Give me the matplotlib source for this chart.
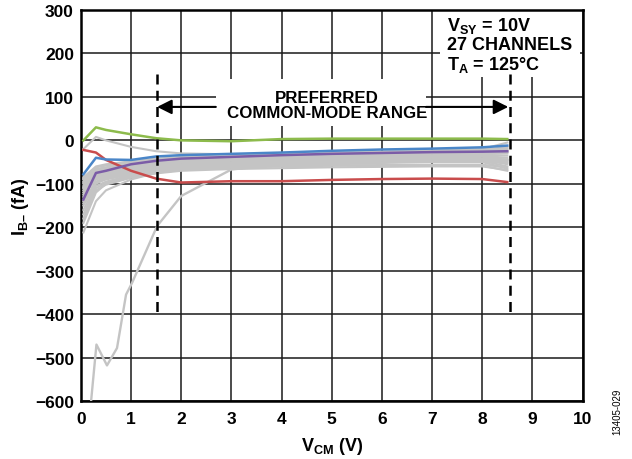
import matplotlib

matplotlib.use("Agg")
import matplotlib.pyplot as plt
from matplotlib.patches import Rectangle

plt.rcParams["font.family"] = ["Liberation Sans", "DejaVu Sans"]
plt.rcParams["font.weight"] = "bold"
plt.rcParams["mathtext.fontset"] = "custom"
plt.rcParams["mathtext.rm"] = "Liberation Sans:bold"
plt.rcParams["mathtext.bf"] = "Liberation Sans:bold"
plt.rcParams["mathtext.it"] = "Liberation Sans:bold"

# common-mode voltage sweep (V)
vcm = [0.05, 0.3, 0.5, 1.0, 1.5, 2.0, 3.0, 4.0, 5.0, 6.0, 7.0, 8.0, 8.5]

# highlighted channels, IB- in fA
green = [0, 30, 24, 14, 5, 0, -2, 3, 4, 4, 4, 4, 3]
blue = [-78, -40, -44, -45, -37, -34, -31, -28, -24, -21, -19, -16, -12]
purple = [-136, -75, -70, -55, -47, -42, -38, -34, -31, -29, -27, -26, -25]
red = [-22, -28, -45, -70, -88, -97, -94, -94, -91, -89, -88, -89, -96]

# remaining channels
gray = [
    [-20, 8, 0, -15, -25, -30, -32, -30, -28, -26, -24, -20, -5],
    [-212, -140, -115, -90, -75, -68, -62, -58, -55, -52, -50, -50, -65],
    [-190, -120, -100, -85, -72, -65, -60, -56, -52, -50, -48, -47, -60],
    [-160, -105, -95, -80, -70, -63, -58, -54, -50, -47, -45, -44, -55],
    [-150, -100, -88, -75, -66, -60, -55, -52, -48, -45, -43, -42, -50],
    [-140, -95, -85, -72, -63, -57, -52, -48, -45, -42, -40, -38, -45],
    [-130, -88, -80, -68, -60, -55, -50, -46, -43, -40, -38, -36, -40],
    [-120, -82, -75, -64, -57, -52, -47, -44, -41, -38, -36, -34, -35],
    [-115, -78, -72, -62, -55, -50, -46, -42, -39, -36, -34, -32, -30],
    [-110, -75, -70, -60, -53, -48, -44, -40, -37, -34, -31, -29, -27],
    [-105, -72, -68, -58, -51, -46, -42, -38, -35, -32, -30, -27, -25],
    [-100, -70, -66, -56, -50, -45, -40, -36, -33, -30, -28, -25, -22],
    [-95, -68, -64, -55, -48, -43, -38, -34, -31, -28, -26, -24, -20],
    [-90, -66, -62, -53, -47, -42, -37, -33, -30, -27, -24, -22, -18],
    [-170, -110, -98, -82, -73, -67, -62, -60, -58, -57, -57, -58, -70],
    [-145, -98, -90, -78, -70, -65, -62, -60, -58, -57, -56, -56, -62],
    [-125, -90, -84, -74, -67, -62, -58, -55, -52, -50, -49, -48, -52],
    [-108, -85, -80, -70, -64, -58, -53, -50, -47, -45, -44, -44, -48],
    [-98, -80, -76, -67, -60, -55, -51, -48, -46, -44, -43, -42, -44],
    [-88, -62, -58, -50, -44, -40, -36, -33, -30, -28, -26, -24, -28],
    [-85, -60, -55, -48, -42, -38, -34, -31, -28, -26, -24, -22, -15],
    [-180, -115, -102, -86, -76, -70, -66, -64, -62, -61, -60, -60, -68],
]
# channel that starts far below the rest
outlier_v = [0.2, 0.31, 0.52, 0.72, 0.9, 1.02, 1.52, 2.0, 3.0, 4.0, 5.0, 6.0, 7.0, 8.0, 8.5]
outlier_i = [-604, -470, -518, -478, -355, -328, -197, -128, -67, -55, -50, -47, -45, -43, -45]

range_lo, range_hi = 1.52, 8.55

fig = plt.figure(figsize=(6.32, 4.60), dpi=100)
ax = fig.add_axes([0.128, 0.126, 0.7937, 0.850])

for g in gray:
    ax.plot(vcm, g, color="#c4c4c4", lw=1.5, zorder=3)
ax.plot(outlier_v, outlier_i, color="#c4c4c4", lw=1.7, zorder=3)
ax.plot(vcm, red, color="#c94c4c", lw=1.8, zorder=4)
ax.plot(vcm, purple, color="#7b5ca7", lw=1.8, zorder=4)
ax.plot(vcm, blue, color="#4a86c8", lw=1.8, zorder=4)
ax.plot(vcm, green, color="#8dbb4c", lw=1.8, zorder=4)

# preferred common-mode range markers
for v in (range_lo, range_hi):
    ax.plot([v, v], [152, -405], color="black", lw=1.8, ls=(0, (4, 2.5)), zorder=6)

# white backing behind the annotations
ax.add_patch(Rectangle((2.69, 32), 4.19, 109, facecolor="white", edgecolor="none", zorder=2))
ax.add_patch(Rectangle((7.16, 147), 2.79, 153, facecolor="white", edgecolor="none", zorder=2))

ax.text(4.9, 81, "PREFERRED\nCOMMON-MODE RANGE", ha="center", va="center",
        fontsize=12.2, fontweight="bold", linespacing=1.0, zorder=7)
arrow = dict(arrowstyle="-|>", color="black", lw=1.5, mutation_scale=22,
             shrinkA=0, shrinkB=0)
ax.annotate("", xy=(range_lo, 77), xytext=(2.69, 77), arrowprops=arrow, zorder=7)
ax.annotate("", xy=(range_hi - 0.03, 77), xytext=(6.88, 77), arrowprops=arrow, zorder=7)

ax.text(7.3, 288, "V$_\\mathrm{SY}$ = 10V\n27 CHANNELS\nT$_\\mathrm{A}$ = 125°C",
        ha="left", va="top", fontsize=13, fontweight="bold", linespacing=1.08, zorder=7)

ax.set_xlim(0, 10)
ax.set_ylim(-600, 300)
ax.set_xticks(range(0, 11))
ax.set_yticks(range(-600, 301, 100))
ax.grid(True, color="#1a1a1a", lw=1.1, zorder=1)
ax.set_axisbelow(True)
ax.tick_params(length=0, labelsize=12.5, pad=7)
ax.tick_params(axis="y", pad=5)
for lab in ax.get_xticklabels() + ax.get_yticklabels():
    lab.set_fontweight("bold")
for sp in ax.spines.values():
    sp.set_linewidth(1.8)

ax.set_xlabel("V$_\\mathrm{CM}$ (V)", fontsize=13, fontweight="bold", labelpad=7)
ax.set_ylabel("I$_\\mathrm{B–}$ (fA)", fontsize=13, fontweight="bold", labelpad=3)

fig.text(0.977, 0.105, "13405-029", rotation=90, ha="center", va="center",
         fontsize=7, fontweight="normal")

fig.savefig("out.png", dpi=100)
